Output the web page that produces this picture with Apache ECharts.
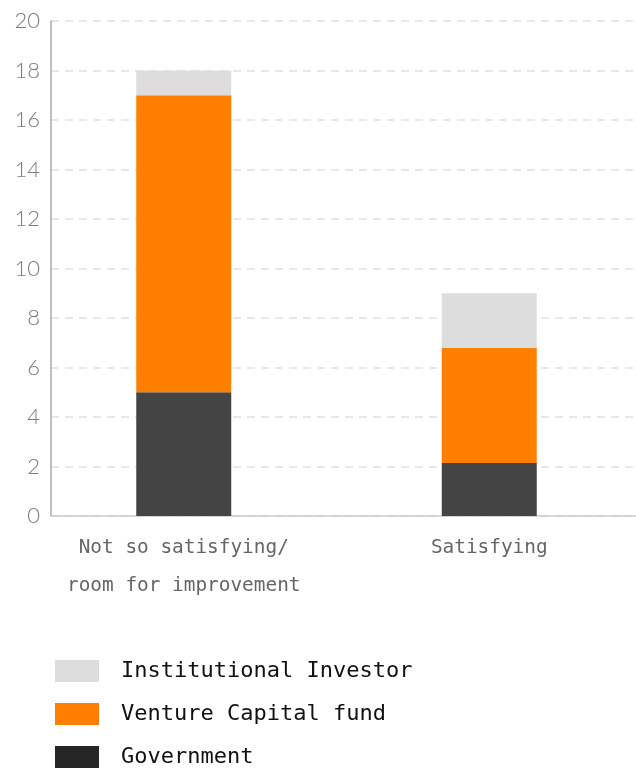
<!DOCTYPE html>
<html>
<head>
<meta charset="utf-8">
<script src="https://cdn.jsdelivr.net/npm/echarts@6/dist/echarts.min.js"></script>
<style>
  html, body { margin: 0; padding: 0; background: #fff; }
  #chart { width: 636px; height: 773px; }
</style>
</head>
<body>
<div id="chart"></div>
<script>
// Funding source by satisfaction level (stacked)
const categories = ['Not so satisfying/\nroom for improvement', 'Satisfying'];
const government = [5, 2.14];
const ventureCapital = [12, 4.65];
const institutional = [1, 2.21];
const yTicks = { min: 0, max: 20, interval: 2 };

const chart = echarts.init(document.getElementById('chart'));
const mono = 'DejaVu Sans Mono';

chart.setOption({
  animation: false,
  backgroundColor: '#ffffff',
  grid: [
    { left: 51, top: 21, width: 585, bottom: 257, containLabel: false, outerBoundsMode: 'none' },
    { left: 31, top: 21, width: 611, bottom: 257, containLabel: false, outerBoundsMode: 'none' }
  ],
  xAxis: [
    {
      gridIndex: 0, type: 'category', data: [''],
      axisLine: { show: true, lineStyle: { color: '#cccccc', width: 1.5 } },
      axisTick: { show: false }, axisLabel: { show: false }
    },
    {
      gridIndex: 1, type: 'category', data: categories,
      axisLine: { show: false }, axisTick: { show: false },
      axisLabel: {
        margin: 13, color: '#666666', fontFamily: mono, fontSize: 19.4,
        lineHeight: 38
      }
    }
  ],
  yAxis: [
    {
      gridIndex: 0, type: 'value', min: yTicks.min, max: yTicks.max, interval: yTicks.interval,
      axisLine: { show: true, lineStyle: { color: '#aaaaaa', width: 1.5 } },
      axisTick: { show: false },
      axisLabel: { margin: 11, color: '#7a7a7a', fontFamily: 'Lato', fontWeight: 300, fontSize: 22 },
      splitLine: { show: true, lineStyle: { color: '#e0e0e0', type: [8, 6], width: 1.5 } }
    },
    {
      gridIndex: 1, type: 'value', min: yTicks.min, max: yTicks.max, interval: yTicks.interval,
      show: false, splitLine: { show: false }
    }
  ],
  legend: {
    orient: 'vertical', left: 55, top: 660, padding: 0, height: 120,
    itemWidth: 44, itemHeight: 22, itemGap: 21,
    icon: 'rect',
    textStyle: { fontFamily: mono, fontSize: 22, color: '#111111', padding: [3, 0, 0, 17] },
    data: [
      { name: 'Institutional Investor' },
      { name: 'Venture Capital fund' },
      { name: 'Government', itemStyle: { color: '#262626' } }
    ]
  },
  series: [
    {
      name: 'Government', type: 'bar', stack: 'total', xAxisIndex: 1, yAxisIndex: 1,
      barWidth: 95, data: government, itemStyle: { color: '#444444' }
    },
    {
      name: 'Venture Capital fund', type: 'bar', stack: 'total', xAxisIndex: 1, yAxisIndex: 1,
      barWidth: 95, data: ventureCapital, itemStyle: { color: '#ff8000' }
    },
    {
      name: 'Institutional Investor', type: 'bar', stack: 'total', xAxisIndex: 1, yAxisIndex: 1,
      barWidth: 95, data: institutional, itemStyle: { color: '#dddddd' }
    }
  ]
});
</script>
</body>
</html>
